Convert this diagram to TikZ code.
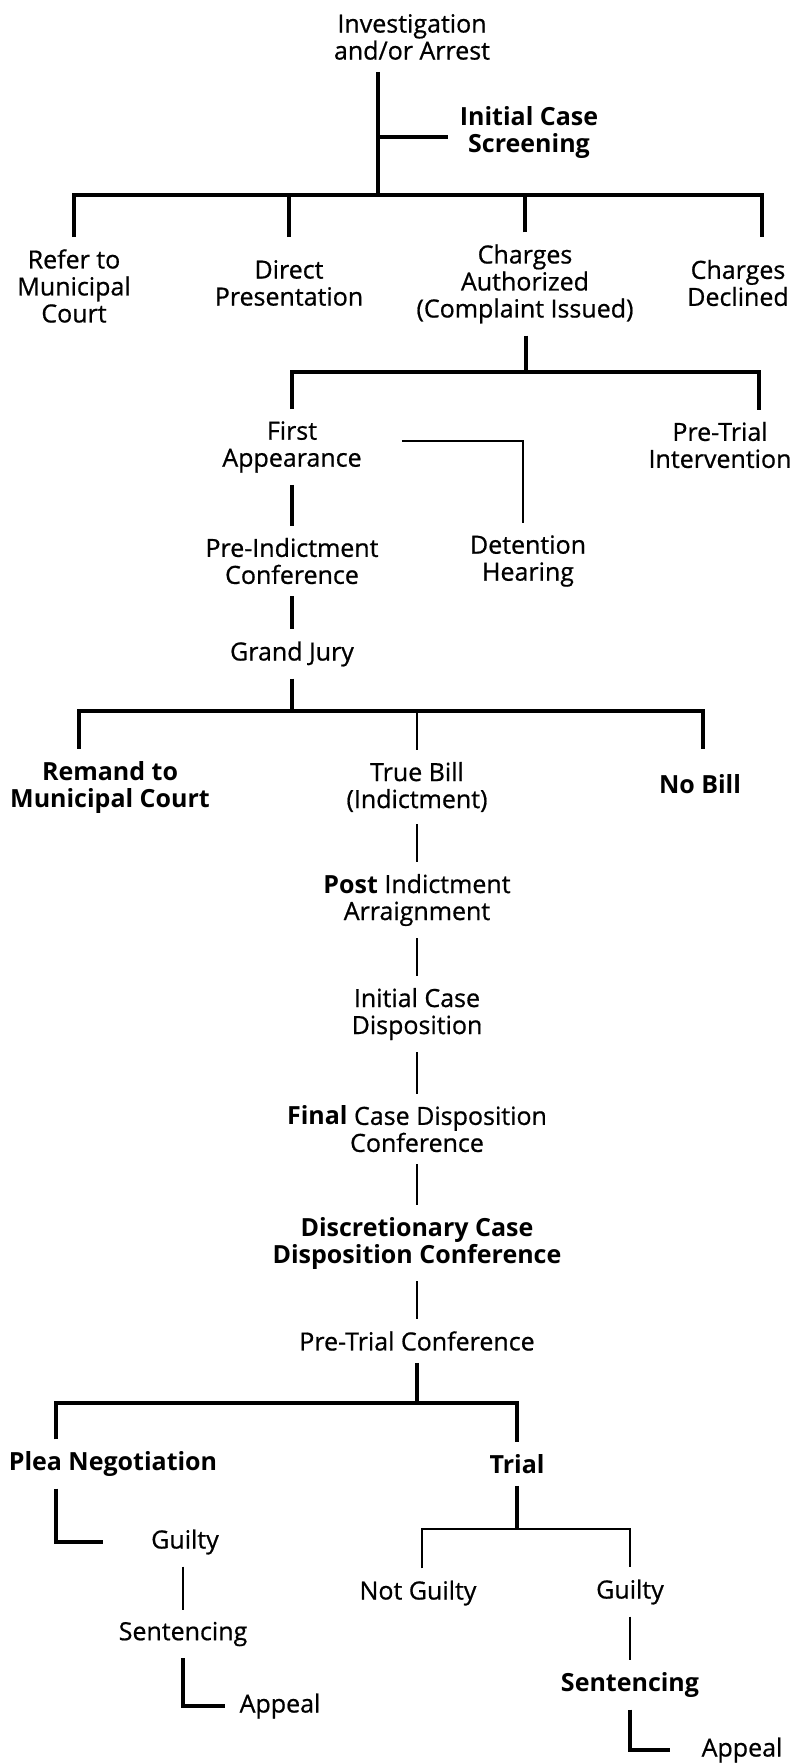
\documentclass[tikz,border=0pt]{standalone}
\usepackage{fontspec}
\setmainfont{Open Sans}[UprightFeatures={FakeBold=0.7}]
\begin{document}
\begin{tikzpicture}[x=1pt,y=-1pt,
    every node/.style={align=center,inner sep=12pt,font=\fontsize{25}{27}\selectfont},
    em/.style={font=\fontsize{25}{27}\selectfont\bfseries},
    heavy/.style={line width=4pt},
    light/.style={line width=2.8pt}
  ]
  \fill[white] (0,0) rectangle (796,1763);
  \useasboundingbox (0,0) rectangle (796,1763);
  % screening
  \node (arrest) at (412,37) {Investigation\\and/or Arrest};
  \node[em] (screen) at (529,133) {Initial Case\\Screening};
  \coordinate (j1) at (378,195);
  \node (refer) at (74,286) {Refer to\\Municipal\\Court};
  \node (direct) at (289,283) {Direct\\Presentation};
  \node (auth) at (525,284) {Charges\\Authorized\\(Complaint Issued)};
  \node (declined) at (738,283) {Charges\\Declined};
  \draw[heavy] (arrest.south -| j1) -- (j1);
  \draw[heavy] ([yshift=-4pt]j1 |- screen.west) -- ([yshift=-4pt]screen.west);
  \draw[heavy] (refer.north) |- (j1) -| ([xshift=24pt]declined.north |- refer.north);
  \draw[heavy] (direct |- refer.north) -- (direct |- j1);
  \draw[heavy] (auth.north) -- (auth |- j1);
  % complaint
  \coordinate (j2) at (526,372);
  \node (first) at (292,447) {First\\Appearance};
  \node (pti) at (720,445) {Pre-Trial\\Intervention};
  \node (hearing) at (528,561) {Detention\\Hearing};
  \node (preind) at (292,561) {Pre-Indictment\\Conference};
  \node (jury) at (292,654) {Grand Jury};
  \draw[heavy] (auth.south -| j2) -- (j2);
  \draw[heavy] (first.north) |- (j2) -| ([xshift=39pt]pti.north);
  \draw[light] ([shift={(28pt,6pt)}]first.east) -| ([xshift=-5pt]hearing.north);
  \draw[heavy] (first.south) -- (preind.north);
  \draw[heavy] (preind.south) -- (jury.north);
  % grand jury
  \coordinate (j3) at (292,711);
  \node[em] (remand) at (110,787) {Remand to\\Municipal Court};
  \node (truebill) at (417,787) {True Bill\\(Indictment)};
  \node[em] (nobill) at (700,784) {No Bill};
  \draw[heavy] (jury.south) -- (j3);
  \draw[heavy] ([xshift=-31pt]remand.north) |- (j3) -| ([xshift=3pt]nobill.north |- remand.north);
  \draw[light] (truebill.north) -- (truebill |- j3);
  % indictment
  \node (arraign) at (417,900) {\textbf{Post} Indictment\\Arraignment};
  \node (initdisp) at (417,1014) {Initial Case\\Disposition};
  \node (finaldisp) at (417,1129) {\textbf{Final} Case Disposition\\Conference};
  \node[em] (discdisp) at (417,1243) {Discretionary Case\\Disposition Conference};
  \node (ptconf) at (417,1341) {Pre-Trial Conference};
  \draw[light] (truebill.south) -- (arraign.north);
  \draw[light] (arraign.south) -- (initdisp.north);
  \draw[light] (initdisp.south) -- (finaldisp.north);
  \draw[light] (finaldisp.south) -- (discdisp.north);
  \draw[light] (discdisp.south) -- (ptconf.north);
  % plea or trial
  \coordinate (j4) at (417,1403);
  \node[em] (plea) at (113,1464) {Plea Negotiation};
  \node[em] (trial) at (517,1464) {Trial};
  \draw[heavy] (ptconf.south) -- (j4);
  \draw[heavy] ([xshift=-57pt]plea.north) |- (j4) -| (trial.north);
  \node (guilty) at (185,1542) {Guilty};
  \node (sentence) at (183,1634) {Sentencing};
  \node (appeal) at (280,1706) {Appeal};
  \draw[heavy] ([xshift=-57pt]plea.south) |- ([xshift=-36pt]guilty.west);
  \draw[light] (sentence.north |- guilty.south) -- (sentence.north);
  \draw[heavy] (sentence.south) |- ([xshift=-2pt]appeal.west);
  \coordinate (j5) at (517,1529);
  \node (notguilty) at (418,1593) {Not Guilty};
  \node (guilty2) at (630,1592) {Guilty};
  \node[em] (sentence2) at (630,1685) {Sentencing};
  \node (appeal2) at (742,1750) {Appeal};
  \draw[heavy] (trial.south) -- (j5);
  \draw[light] ([xshift=4pt]notguilty.north) |- (j5) -| (guilty2.north);
  \draw[light] (guilty2.south) -- (sentence2.north);
  \draw[heavy] (sentence2.south) |- ([xshift=-19pt]appeal2.west);
\end{tikzpicture}
\end{document}
